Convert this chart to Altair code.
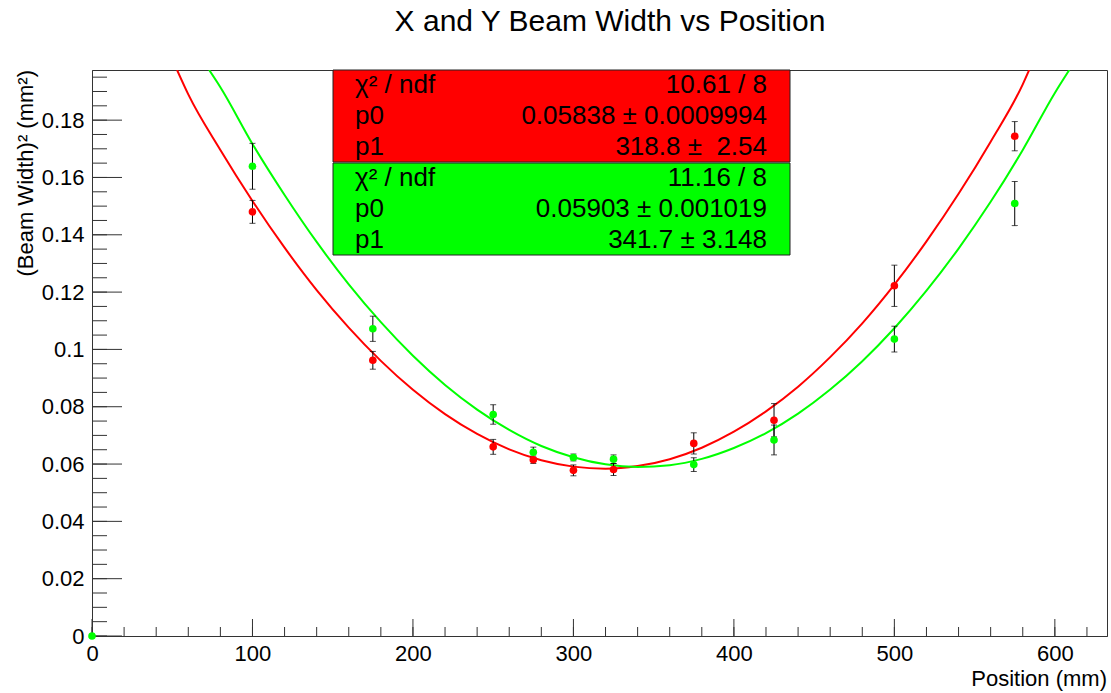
import altair as alt
import pandas as pd

TITLE = "X and Y Beam Width vs Position"
X_TITLE = "Position (mm)"
Y_TITLE = "(Beam Width)\u00b2 (mm\u00b2)"

# measured points
positions = [100, 175, 250, 275, 300, 325, 375, 425, 500, 575]
red_y = [0.1480, 0.0962, 0.0660, 0.0615, 0.0578, 0.0581, 0.0672, 0.0753, 0.1222, 0.1744]
red_err = [0.0040, 0.0031, 0.0026, 0.0013, 0.0019, 0.0021, 0.0037, 0.0058, 0.0072, 0.0051]
green_x = [0, 100, 175, 250, 275, 300, 325, 375, 425, 500, 575]
green_y = [0.0, 0.1639, 0.1072, 0.0773, 0.0641, 0.0623, 0.0617, 0.0598, 0.0684, 0.1036, 0.1509]
green_err = [0.0, 0.0080, 0.0044, 0.0034, 0.0018, 0.0012, 0.0015, 0.0024, 0.0052, 0.0045, 0.0077]

# fitted curves
red_fit_x = [53, 60, 80, 100, 120, 140, 160, 180, 200, 220, 240, 260, 280, 300, 320,
             340, 360, 380, 400, 420, 440, 460, 480, 500, 520, 540, 560, 580, 584]
red_fit_y = [0.1975, 0.1890, 0.1696, 0.1518, 0.1355, 0.1207, 0.1076, 0.0960, 0.0859,
             0.0774, 0.0705, 0.0651, 0.0613, 0.0591, 0.0584, 0.0593, 0.0617, 0.0657,
             0.0713, 0.0784, 0.0870, 0.0973, 0.1091, 0.1226, 0.1377, 0.1543, 0.1725,
             0.1925, 0.1975]
green_fit_x = [73, 80, 100, 120, 140, 160, 180, 200, 220, 240, 260, 280, 300, 320, 340,
               360, 380, 400, 420, 440, 460, 480, 500, 520, 540, 560, 580, 600, 609]
green_fit_y = [0.1975, 0.1915, 0.1717, 0.1539, 0.1375, 0.1227, 0.1095, 0.0978, 0.0876,
               0.0790, 0.0719, 0.0663, 0.0624, 0.0599, 0.0590, 0.0596, 0.0618, 0.0656,
               0.0708, 0.0776, 0.0860, 0.0959, 0.1074, 0.1205, 0.1352, 0.1515, 0.1696,
               0.1895, 0.1975]

x_major = [0, 100, 200, 300, 400, 500, 600]
y_major = [0, 0.02, 0.04, 0.06, 0.08, 0.1, 0.12, 0.14, 0.16, 0.18]
x_minor = [v for v in range(0, 640, 20)]
y_minor = [round(i * 0.005, 3) for i in range(40)]

stat_labels = ["\u03c7\u00b2 / ndf", "p0", "p1"]
red_stats = ["10.61 / 8", "0.05838 \u00b1 0.0009994", "318.8 \u00b1\u00a0 2.54"]
green_stats = ["11.16 / 8", "0.05903 \u00b1 0.001019", "341.7 \u00b1 3.148"]

W, H = 1015, 566
FONT = "Liberation Sans"
RED, GREEN = "#ff0000", "#00ff00"
AX = "#333333"

xs = alt.Scale(domain=[0, 632.5], nice=False, zero=False)
ys = alt.Scale(domain=[0, 0.1975], nice=False, zero=False)

pts = pd.DataFrame({
    "x": positions + green_x,
    "y": red_y + green_y,
    "err": red_err + green_err,
    "s": ["X"] * len(positions) + ["Y"] * len(green_x),
})
pts["lo"] = pts["y"] - pts["err"]
pts["hi"] = pts["y"] + pts["err"]
fits = pd.DataFrame({
    "x": red_fit_x + green_fit_x,
    "y": red_fit_y + green_fit_y,
    "s": ["X"] * len(red_fit_x) + ["Y"] * len(green_fit_x),
})
color = alt.Color("s:N", scale=alt.Scale(domain=["X", "Y"], range=[RED, GREEN]), legend=None)

base_x = alt.X("x:Q", scale=xs, axis=alt.Axis(values=x_major, ticks=False, grid=False, title=None,
               labelFontSize=22, labelPadding=7, labelFont=FONT, labelColor="black",
               domainColor=AX, labelFlush=False, labelOverlap=False, format="d"))
base_y = alt.Y("y:Q", scale=ys, axis=alt.Axis(values=y_major, ticks=False, grid=False, title=None,
               labelFontSize=22, labelPadding=8, labelFont=FONT, labelColor="black",
               domainColor=AX, labelFlush=False, labelOverlap=False,
               labelExpr="format(datum.value, '~g')"))

curves = alt.Chart(fits).mark_line(strokeWidth=2, clip=True, interpolate="monotone").encode(
    x=base_x, y=base_y, color=color, detail="s:N", order="x:Q")

eb = pts[pts["err"] > 0]
bars = alt.Chart(eb).mark_rule(color="black", strokeWidth=1).encode(
    x=alt.X("x:Q", scale=xs), y=alt.Y("lo:Q", scale=ys), y2="hi:Q")
cap_lo = alt.Chart(eb).mark_tick(color="black", orient="horizontal", size=6, thickness=1).encode(
    x=alt.X("x:Q", scale=xs), y=alt.Y("lo:Q", scale=ys))
cap_hi = alt.Chart(eb).mark_tick(color="black", orient="horizontal", size=6, thickness=1).encode(
    x=alt.X("x:Q", scale=xs), y=alt.Y("hi:Q", scale=ys))
dots = alt.Chart(pts).mark_circle(size=58, opacity=1).encode(
    x=alt.X("x:Q", scale=xs), y=alt.Y("y:Q", scale=ys), color=color)

ymaj = alt.Chart(pd.DataFrame({"v": y_major})).mark_rule(color=AX).encode(
    y=alt.Y("v:Q", scale=ys), x=alt.value(0), x2=alt.value(30))
ymin = alt.Chart(pd.DataFrame({"v": y_minor})).mark_rule(color=AX).encode(
    y=alt.Y("v:Q", scale=ys), x=alt.value(0), x2=alt.value(15))
xmaj = alt.Chart(pd.DataFrame({"v": x_major})).mark_rule(color=AX).encode(
    x=alt.X("v:Q", scale=xs), y=alt.value(H), y2=alt.value(H - 17))
xmin = alt.Chart(pd.DataFrame({"v": x_minor})).mark_rule(color=AX).encode(
    x=alt.X("v:Q", scale=xs), y=alt.value(H), y2=alt.value(H - 9))

one = alt.Data(values=[{"a": 1}])
layers = [ymin, ymaj, xmin, xmaj, curves, bars, cap_lo, cap_hi, dots]

# stats boxes
box_left, box_right = 241, 698
for i, (fill, top, vals) in enumerate([(RED, 0, red_stats), (GREEN, 93, green_stats)]):
    layers.append(alt.Chart(one).mark_rect(fill=fill, stroke="#222222", strokeWidth=1).encode(
        x=alt.value(box_left), x2=alt.value(box_right), y=alt.value(top), y2=alt.value(top + 92)))
    for r in range(3):
        yy = top + 15 + r * 31
        layers.append(alt.Chart(one).mark_text(font=FONT, fontSize=26, align="left",
                      baseline="middle", color="black").encode(
            x=alt.value(box_left + 22), y=alt.value(yy), text=alt.value(stat_labels[r])))
        layers.append(alt.Chart(one).mark_text(font=FONT, fontSize=26, align="right",
                      baseline="middle", color="black").encode(
            x=alt.value(box_right - 23), y=alt.value(yy), text=alt.value(vals[r])))

layers.append(alt.Chart(one).mark_text(font=FONT, fontSize=30, align="center",
              baseline="middle", color="black").encode(
    x=alt.value(518), y=alt.value(-48), text=alt.value(TITLE)))
layers.append(alt.Chart(one).mark_text(font=FONT, fontSize=22, align="right",
              baseline="middle", color="black").encode(
    x=alt.value(W), y=alt.value(H + 43), text=alt.value(X_TITLE)))
layers.append(alt.Chart(one).mark_text(font=FONT, fontSize=22, align="right",
              baseline="middle", color="black", angle=270).encode(
    x=alt.value(-66), y=alt.value(0), text=alt.value(Y_TITLE)))

chart = alt.layer(*layers).properties(
    width=W, height=H,
    padding={"left": 92, "top": 70, "right": 4, "bottom": 57},
    autosize=alt.AutoSizeParams(type="none"),
    background="white",
).configure_view(stroke=AX, strokeWidth=1)

chart.save("out.html", embed_options={"renderer": "svg", "actions": False})
